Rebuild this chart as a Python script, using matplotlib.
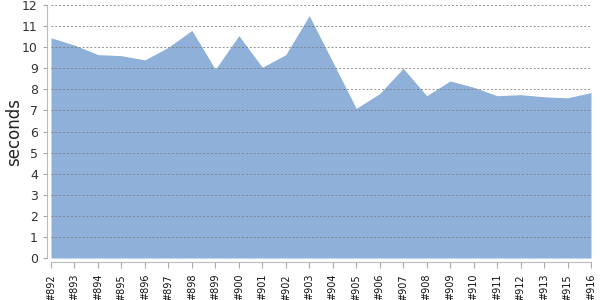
import matplotlib
matplotlib.use("Agg")
import matplotlib.pyplot as plt
import numpy as np

builds = ["#892","#893","#894","#895","#896","#897","#898","#899","#900","#901",
          "#902","#903","#904","#905","#906","#907","#908","#909","#910","#911",
          "#912","#913","#915","#916"]
seconds = [10.45,10.1,9.65,9.6,9.4,10.0,10.8,8.95,10.55,9.05,
           9.65,11.5,9.3,7.1,7.8,9.0,7.7,8.4,8.1,7.7,
           7.75,7.65,7.6,7.85]
yticks = list(range(0, 13))

fig = plt.figure(figsize=(6, 3), dpi=100)
ax = fig.add_axes([0.085, 0.14, 0.9, 0.843])
x = np.arange(len(builds))
ax.fill_between(x, seconds, 0, color="#8eb0d9", linewidth=0, zorder=2)
ax.set_xlim(0, len(builds) - 1)
ax.set_ylim(0, 12)
ax.set_yticks(yticks)
ax.set_xticks(x, builds)
ax.tick_params(axis="y", labelsize=9, length=3, color="#aaaaaa", labelcolor="#333333")
ax.tick_params(axis="x", length=4, color="#aaaaaa", labelcolor="#111111", pad=4.5,
               labelrotation=90, labelsize=7)
ax.grid(axis="y", linestyle=(0, (2, 2)), color="#777777", linewidth=0.7, zorder=3, alpha=0.8)
ax.set_axisbelow(False)
for s in ["top", "right"]:
    ax.spines[s].set_visible(False)
ax.spines["left"].set_color("#bbbbbb")
ax.spines["bottom"].set_color("#bbbbbb")
ax.spines["left"].set_position(("outward", 3))
ax.spines["bottom"].set_position(("outward", 3))
ax.set_ylabel("seconds", fontsize=12, color="#222222")
ax.yaxis.set_label_coords(-0.052, 0.5)
fig.savefig("out.png", dpi=100)
